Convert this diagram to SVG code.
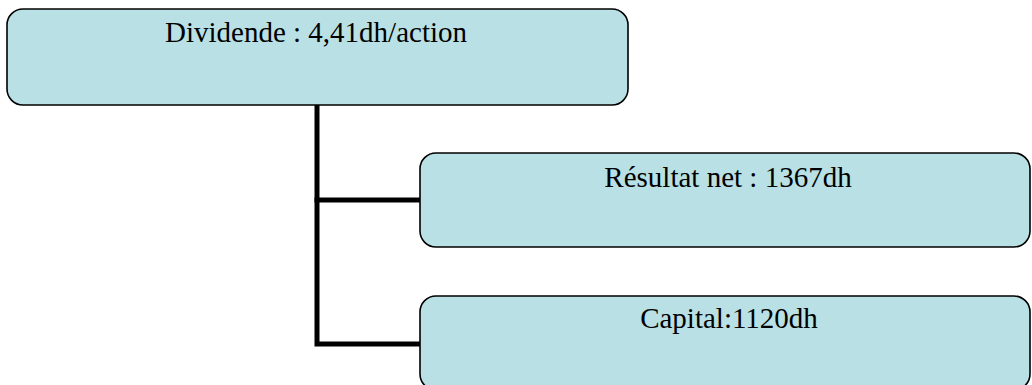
<svg xmlns="http://www.w3.org/2000/svg" width="1032" height="385" viewBox="0 0 1032 385">
<style>
.box{fill:#B9E0E4;stroke:#000;stroke-width:1.6}
.lbl{font-family:"Liberation Serif","Times New Roman",serif;font-size:29px;fill:#000;text-anchor:middle}
.con{fill:none;stroke:#000;stroke-width:5;stroke-linecap:square;stroke-linejoin:miter}
</style>
<g id="connectors">
<path class="con" d="M317,106 V344 H420"/>
<path class="con" d="M317,200 H420"/>
</g>
<g id="node-dividende">
<rect class="box" x="7" y="9" width="621" height="96" rx="16" ry="16"/>
<text class="lbl" x="316" y="42">Dividende : 4,41dh/action</text>
</g>
<g id="node-resultat">
<rect class="box" x="420" y="153" width="610" height="94" rx="16" ry="16"/>
<text class="lbl" x="728" y="187">Résultat net : 1367dh</text>
</g>
<g id="node-capital">
<rect class="box" x="420" y="296" width="610" height="94" rx="16" ry="16"/>
<text class="lbl" x="729" y="328">Capital:1120dh</text>
</g>
</svg>
